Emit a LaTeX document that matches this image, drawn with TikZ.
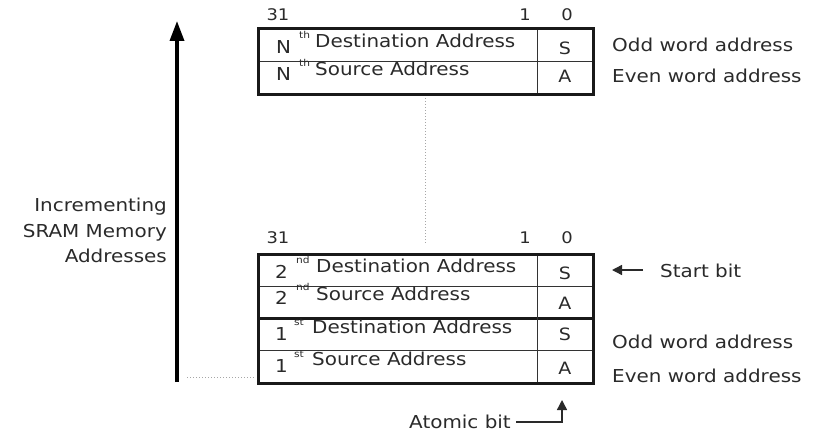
\documentclass[tikz,border=0pt]{standalone}
\usepackage{fontspec}
\setmainfont[FakeStretch=1.12]{DejaVu Sans}
\usetikzlibrary{arrows.meta}
\definecolor{ink}{HTML}{2A2A2A}
\tikzset{
  lbl/.style={inner sep=0pt, text=ink, font=\fontsize{17.8}{20}\selectfont, anchor=base west},
  bitno/.style={inner sep=0pt, text=ink, font=\fontsize{16}{18}\selectfont, anchor=base},
  flag/.style={inner sep=0pt, text=ink, font=\fontsize{17}{18}\selectfont, anchor=base},
  sup/.style={inner sep=0pt, text=ink, font=\fontsize{9.5}{10}\selectfont, anchor=base west},
  outer/.style={line width=3pt, draw=black!90},
  inner/.style={line width=1pt, draw=black!80},
  guide/.style={line width=1pt, draw=black!35, dotted},
  pointer/.style={line width=1.4pt, draw=ink, -{Triangle[length=10pt,width=10pt]}},
}
\begin{document}
\begin{tikzpicture}[x=1pt,y=-1pt]
\useasboundingbox (0,0) rectangle (819,433);

% ---- top word pair (N-th descriptor)
\draw[inner] (258,62) -- (593,62);
\draw[inner] (537,29) -- (537,95);
\draw[outer] (258,29) rectangle (593,95);

\node[bitno] (t31) at (278,21) {31};
\node[bitno] (t1)  at (525,21) {1};
\node[bitno] (t0)  at (567,21) {0};

\node[lbl] (tn1) at (276,54) {N};
\node[sup] (ts1) at (299,39) {th};
\node[lbl] (tdst) at (315,48) {Destination Address};
\node[flag] (tS) at (565,55) {S};

\node[lbl] (tn2) at (276,81) {N};
\node[sup] (ts2) at (299,67) {th};
\node[lbl] (tsrc) at (315,76) {Source Address};
\node[flag] (tA) at (565,83) {A};

\node[lbl] (todd)  at (612,52) {Odd word address};
\node[lbl] (teven) at (612,83) {Even word address};

% ---- dotted gap between the blocks
\coordinate (gtop) at (425,98);
\coordinate (gbot) at (425,243);
\draw[guide] (gtop) -- (gbot);

% ---- bottom block (1st and 2nd descriptors)
\draw[inner] (258,286) -- (593,286);
\draw[inner] (258,350) -- (593,350);
\draw[line width=3pt, draw=black!90] (258,318) -- (593,318);
\draw[inner] (537,254) -- (537,383);
\draw[outer] (258,254) rectangle (593,383);

\node[bitno] (b31) at (278,243) {31};
\node[bitno] (b1)  at (525,243) {1};
\node[bitno] (b0)  at (567,243) {0};

\node[lbl] (bn1) at (275,278) {2};
\node[sup] (bs1) at (296,263) {nd};
\node[lbl] (bdst2) at (316,272) {Destination Address};
\node[flag] (bS2) at (565,279) {S};

\node[lbl] (bn2) at (275,304) {2};
\node[sup] (bs2) at (296,290) {nd};
\node[lbl] (bsrc2) at (316,300) {Source Address};
\node[flag] (bA2) at (565,309) {A};

\node[lbl] (bn3) at (275,340) {1};
\node[sup] (bs3) at (294,325) {st};
\node[lbl] (bdst1) at (312,333) {Destination Address};
\node[flag] (bS1) at (565,340) {S};

\node[lbl] (bn4) at (275,372) {1};
\node[sup] (bs4) at (294,357) {st};
\node[lbl] (bsrc1) at (312,365) {Source Address};
\node[flag] (bA1) at (565,374) {A};

\node[lbl] (bodd)  at (612,348) {Odd word address};
\node[lbl] (beven) at (612,382) {Even word address};

% ---- start bit marker
\node[lbl] (start) at (660,277) {Start bit};
\coordinate (stail) at (643,270);
\coordinate (stip)  at (612,270);
\draw[pointer] (stail) -- (stip);

% ---- atomic bit marker
\node[lbl] (atomic) at (409,428) {Atomic bit};
\coordinate (atail) at (516,422);
\coordinate (abend) at (562,422);
\coordinate (atip)  at (562,400);
\draw[pointer] (atail) -- (abend) -- (atip);

% ---- address direction arrow
\coordinate (abot) at (177,382);
\coordinate (atop) at (177,21);
\draw[line width=3.5pt, draw=black, -{Triangle[length=20pt,width=14pt]}] (abot) -- (atop);
\coordinate (dl) at (187,377);
\coordinate (dr) at (255,377);
\draw[guide] (dl) -- (dr);

% label lines, right-aligned against the arrow
\node[lbl, anchor=base east] (dir1) at (167,211) {Incrementing};
\node[lbl, anchor=base east] (dir2) at (167,237) {SRAM Memory};
\node[lbl, anchor=base east] (dir3) at (167,262) {Addresses};
\end{tikzpicture}
\end{document}
